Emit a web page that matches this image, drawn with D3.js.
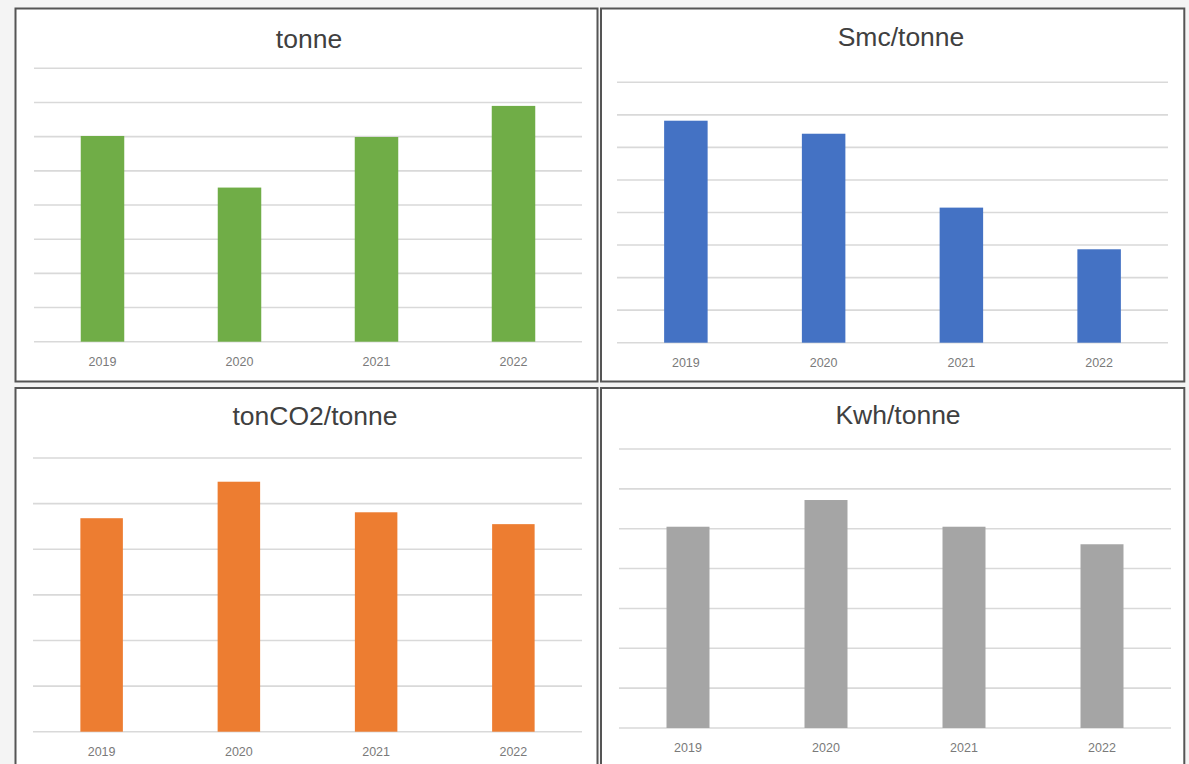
<!DOCTYPE html>
<html>
<head>
<meta charset="utf-8">
<script src="https://cdn.jsdelivr.net/npm/d3@7"></script>
<style>
  html, body { margin: 0; padding: 0; background: #f4f4f4; }
  svg { display: block; }
</style>
</head>
<body>
<svg id="chart" width="1189" height="764"></svg>
<script>
// Production indicators per year
const years = ["2019", "2020", "2021", "2022"];
const tonne = [6.02, 4.51, 5.99, 6.90];
const smcPerTonne = [6.82, 6.42, 4.15, 2.87];
const co2PerTonne = [4.68, 5.48, 4.81, 4.55];
const kwhPerTonne = [5.05, 5.72, 5.05, 4.61];

const titles = ["tonne", "Smc/tonne", "tonCO2/tonne", "Kwh/tonne"];
const gridMax = [8, 8, 6, 7];

// Layout of the four panels
const panels = [
  { title: titles[0], values: tonne, color: "#70ad47", max: gridMax[0],
    box: [15.5, 8.5, 582, 373], x: [34, 582], y: [341.7, 68.3], bw: 43.5,
    tx: 309, ty: 48, ly: 365.5 },
  { title: titles[1], values: smcPerTonne, color: "#4472c4", max: gridMax[1],
    box: [601, 8.5, 583.3, 373], x: [617, 1168], y: [342.7, 82.3], bw: 43.5,
    tx: 901, ty: 45.5, ly: 367 },
  { title: titles[2], values: co2PerTonne, color: "#ed7d31", max: gridMax[2],
    box: [15.5, 388, 582, 400], x: [33, 582], y: [731.7, 458], bw: 42.5,
    tx: 315, ty: 425, ly: 756 },
  { title: titles[3], values: kwhPerTonne, color: "#a5a5a5", max: gridMax[3],
    box: [601, 388, 583.3, 400], x: [619, 1171], y: [728, 449], bw: 43,
    tx: 898, ty: 424, ly: 752 }
];

const svg = d3.select("#chart");

panels.forEach(p => {
  const g = svg.append("g");

  // panel frame
  g.append("rect")
    .attr("x", p.box[0]).attr("y", p.box[1])
    .attr("width", p.box[2]).attr("height", p.box[3])
    .attr("fill", "#ffffff")
    .attr("stroke", "#555555")
    .attr("stroke-width", 2);

  const x = d3.scaleBand().domain(years).range(p.x).paddingInner(0).paddingOuter(0);
  const y = d3.scaleLinear().domain([0, p.max]).range(p.y);

  // horizontal gridlines
  g.append("g")
    .selectAll("line")
    .data(d3.range(0, p.max + 1))
    .join("line")
    .attr("x1", p.x[0]).attr("x2", p.x[1])
    .attr("y1", d => y(d)).attr("y2", d => y(d))
    .attr("stroke", "#d9d9d9")
    .attr("stroke-width", 1.6);

  // bars
  g.append("g")
    .selectAll("rect")
    .data(p.values)
    .join("rect")
    .attr("x", (d, i) => x(years[i]) + (x.bandwidth() - p.bw) / 2)
    .attr("width", p.bw)
    .attr("y", d => y(d))
    .attr("height", d => y(0) - y(d))
    .attr("fill", p.color);

  // category labels
  g.append("g")
    .selectAll("text")
    .data(years)
    .join("text")
    .attr("x", d => x(d) + x.bandwidth() / 2)
    .attr("y", p.ly)
    .attr("text-anchor", "middle")
    .attr("font-family", "'Liberation Sans', Arial, sans-serif")
    .attr("font-size", 12.5)
    .attr("fill", "#7a7a7a")
    .text(d => d);

  // title
  g.append("text")
    .attr("x", p.tx)
    .attr("y", p.ty)
    .attr("text-anchor", "middle")
    .attr("font-family", "'Liberation Sans', Arial, sans-serif")
    .attr("font-size", 26.5)
    .attr("fill", "#404040")
    .text(p.title);
});
</script>
</body>
</html>
